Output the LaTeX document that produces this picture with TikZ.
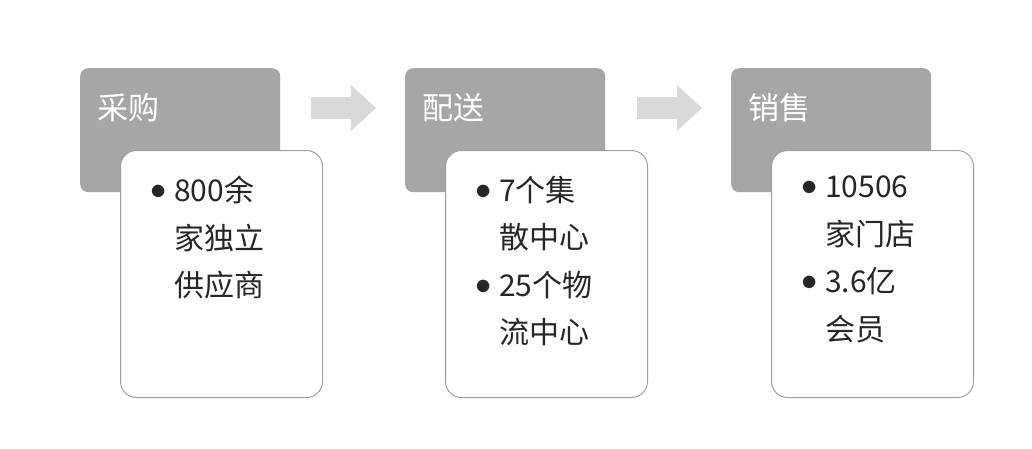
\documentclass[tikz,border=0pt]{standalone}
\usepackage{fontspec}
\newfontfamily\cjk{Noto Sans CJK SC}
\definecolor{hdr}{HTML}{A6A6A6}
\definecolor{arr}{HTML}{D9D9D9}
\definecolor{txt}{HTML}{262626}
\definecolor{bd}{HTML}{A0A0A0}
\newcommand{\bul}{\makebox[24pt][l]{\raisebox{2pt}{\scalebox{1.3}{$\bullet$}}}}
\newcommand{\ind}{\hspace*{24pt}}
\tikzset{
 hdrbox/.style={fill=hdr,rounded corners=8pt,minimum width=200pt,minimum height=124pt,anchor=north west},
 bodybox/.style={fill=white,draw=bd,line width=1pt,rounded corners=16pt,minimum width=202pt,minimum height=247pt,anchor=north west},
 hdrtext/.style={text=white,font=\cjk\fontsize{31}{36}\selectfont,anchor=west},
 bodytext/.style={text=txt,font=\cjk\fontsize{30}{47.5}\selectfont,anchor=north west,align=left,inner sep=0pt},
 blockarrow/.style={fill=arr}
}
\begin{document}
\begin{tikzpicture}[x=1pt,y=-1pt]
\useasboundingbox[fill=white] (0,0) rectangle (1032,448);
\foreach \i/\x/\h in {1/80/采购,2/405/配送,3/731/销售}{
 \node[hdrbox] (h\i) at (\x,68) {};
 \node[hdrtext] (ht\i) at (\x+14,108) {\h};
 \node[bodybox] (b\i) at (\x+40,150) {};
}
\node[bodytext] (t1) at (150,176) {\bul{}800余\\\ind{}家独立\\\ind{}供应商};
\node[bodytext] (t2) at (475,176) {\bul{}7个集\\\ind{}散中心\\\bul{}25个物\\\ind{}流中心};
\node[bodytext] (t3) at (801,176) {\bul{}10506\\\ind{}家门店\\\bul{}3.6亿\\\ind{}会员};
\foreach \x in {311,637}{
 \fill[blockarrow] (\x,97) -- (\x+40,97) -- (\x+40,85) -- (\x+65,108) -- (\x+40,131) -- (\x+40,119) -- (\x,119) -- cycle;
}
\end{tikzpicture}
\end{document}
